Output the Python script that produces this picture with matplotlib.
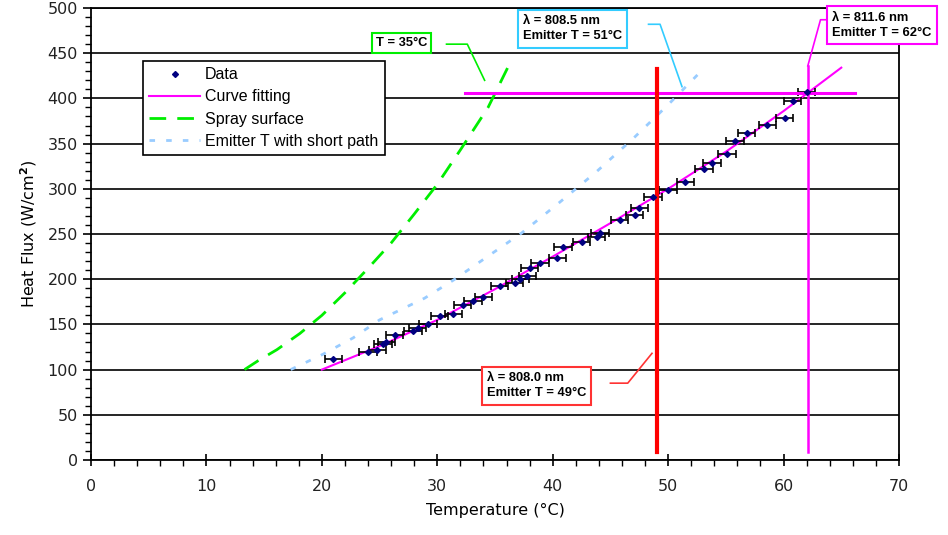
import matplotlib
matplotlib.use("Agg")
import matplotlib.pyplot as plt
from matplotlib.lines import Line2D

# ---- data ----
data_T = [21.0, 24.0, 24.8, 25.3, 25.6, 26.3, 27.9, 28.3, 29.2, 30.2, 31.4, 32.2, 33.1, 34.0,
          35.4, 36.7, 37.2, 37.8, 38.0, 38.9, 40.4, 40.9, 42.5, 43.8, 44.1, 45.8, 47.1, 47.5,
          48.7, 50.0, 51.5, 53.1, 53.8, 55.1, 55.8, 56.8, 58.6, 60.1, 60.8, 62.0]
data_Q = [112, 119, 122, 128, 130, 138, 143, 146, 150, 159, 162, 171, 176, 180,
          192, 196, 200, 203, 212, 218, 223, 236, 241, 247, 251, 266, 271, 279,
          291, 299, 307, 322, 328, 338, 353, 362, 371, 378, 397, 407]
data_Terr = 0.75

fit_T = [20, 25, 30, 35, 40, 45, 50, 55, 60, 65]
fit_Q = [100, 126, 155, 189, 225, 262, 300, 341, 386, 434]

spray_T = [13.3, 14.5, 16.1, 18.1, 20.0, 22.0, 24.0, 26.0, 28.0, 30.0, 32.0, 34.4, 36.1]
spray_Q = [100, 110, 122, 140, 160, 185, 212, 240, 272, 305, 343, 390, 434]

emit_T = [17.3, 20.1, 22.7, 25.0, 28.9, 31.4, 34.8, 37.3, 40.5, 43.8, 47.0, 50.0, 53.0]
emit_Q = [100, 117, 135, 155, 179, 199, 229, 251, 284, 319, 356, 393, 432]

hline_Q = 406
hline_T = [32.4, 66.2]
red_T = 49.0
red_Q = [9, 432]
mag_T = 62.1
mag_Q = [9, 436]

legend_labels = ["Data", "Curve fitting", "Spray surface", "Emitter T with short path"]

plt.rcParams['font.family'] = ['DejaVu Sans']

fig = plt.figure(figsize=(9.48, 5.35), dpi=100)
ax = fig.add_axes([91/948, 1-460/535, 808/948, 452/535])

ax.set_xlim(0, 70)
ax.set_ylim(0, 500)
ax.set_xticks(range(0, 71, 10))
ax.set_yticks(range(0, 501, 50))
ax.set_xticks(range(0, 71, 2), minor=True)
ax.set_yticks(range(0, 501, 10), minor=True)
ax.tick_params(axis='both', which='major', labelsize=11.5, length=5, width=1.2, direction='inout')
ax.tick_params(axis='both', which='minor', length=4, width=1.0, direction='out')
ax.tick_params(axis='x', which='major', direction='inout', length=8, pad=10)
ax.tick_params(axis='y', which='major', direction='out', length=6)
for lab in ax.get_xticklabels() + ax.get_yticklabels():
    lab.set_color('#222222')

ax.yaxis.grid(True, which='major', color='black', linewidth=1.2)
ax.set_axisbelow(True)
for s in ax.spines.values():
    s.set_linewidth(1.3)
    s.set_color('black')

ax.set_xlabel("Temperature (°C)", fontsize=11.5, labelpad=6)
ax.set_ylabel("Heat Flux (W/cm$^\\mathbf{2}$)", fontsize=11.5, labelpad=6)

# curves
l_spray, = ax.plot(spray_T, spray_Q, color='#00EE00', lw=2, dashes=(6, 4), label=legend_labels[2])
l_emit, = ax.plot(emit_T, emit_Q, color='#99CCFF', lw=2, dashes=(2, 4), label=legend_labels[3])
l_fit, = ax.plot(fit_T, fit_Q, color='#FF00FF', lw=1.5, label=legend_labels[1])
eb = ax.errorbar(data_T, data_Q, xerr=data_Terr, fmt='D', ms=3, color='#000080',
                 ecolor='black', elinewidth=1.2, capsize=3, capthick=1.2, label=legend_labels[0])

# vertical/horizontal markers
ax.plot(hline_T, [hline_Q, hline_Q], color='#FF00FF', lw=2.2)
ax.plot([red_T, red_T], red_Q, color='#FF0000', lw=3)
ax.plot([mag_T, mag_T], mag_Q, color='#FF00FF', lw=1.8)

# callout connectors
ax.plot([30.8, 32.6, 34.1], [460, 460, 420], color='#00EE00', lw=1.2, clip_on=False)
ax.plot([48.3, 49.3, 51.2], [482, 482, 413], color='#33CCFF', lw=1.2, clip_on=False)
ax.plot([63.8, 63.2, 62.1], [487, 487, 436], color='#FF00FF', lw=1.2, clip_on=False)
ax.plot([45.0, 46.5, 48.6], [85, 85, 118], color='#FF3333', lw=1.2, clip_on=False)

box_font = dict(fontsize=9.3, fontweight='bold', family=['Liberation Sans', 'DejaVu Sans'],
                clip_on=False, va='center', ha='left', linespacing=1.35)
ax.text(24.7, 461.5, "T = 35°C", color='black',
        bbox=dict(boxstyle='square,pad=0.3', fc='white', ec='#00EE00', lw=1.5), **box_font)
ax.text(37.4, 477, "λ = 808.5 nm\nEmitter T = 51°C", color='black',
        bbox=dict(boxstyle='square,pad=0.4', fc='white', ec='#33CCFF', lw=1.5), **box_font)
ax.text(64.2, 481, "λ = 811.6 nm\nEmitter T = 62°C", color='black',
        bbox=dict(boxstyle='square,pad=0.4', fc='white', ec='#FF00FF', lw=1.5), **box_font)
ax.text(34.3, 82, "λ = 808.0 nm\nEmitter T = 49°C", color='black',
        bbox=dict(boxstyle='square,pad=0.4', fc='white', ec='#FF3333', lw=1.5), **box_font)

handles = [Line2D([], [], ls='none', marker='D', ms=3, color='#000080'), l_fit, l_spray, l_emit]
leg = ax.legend(handles, legend_labels, loc='upper left', bbox_to_anchor=(0.064, 0.883),
                borderaxespad=0, fancybox=False, framealpha=1, edgecolor='black',
                prop=dict(family='Liberation Sans', size=11.5), handlelength=3.2,
                handletextpad=0.3, borderpad=0.4, labelspacing=0.45)
leg.get_frame().set_linewidth(1.2)

fig.savefig("out.png", dpi=100)
